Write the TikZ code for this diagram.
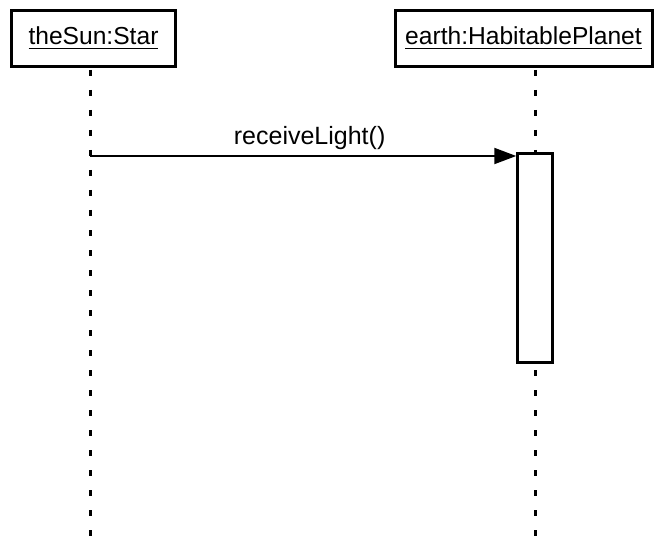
\documentclass[tikz,border=0pt]{standalone}
\usepackage{fontspec}
\setmainfont{Liberation Sans}
\usetikzlibrary{arrows.meta}
\newcommand\myul[1]{\setbox0\hbox{#1}\rlap{\rule[-4.5pt]{\wd0}{1.6pt}}\box0}
\begin{document}
\begin{tikzpicture}[x=1pt,y=-1pt,
  objbox/.style={draw,line width=3pt,fill=white,inner sep=0pt,text height=17.5pt,text depth=5.5pt,font=\fontsize{24.6}{28}\selectfont},
  lifeline/.style={line width=3pt,dash pattern=on 6pt off 14pt},
  actbox/.style={draw,line width=2.5pt,fill=white},
  msg/.style={line width=2pt,-{Triangle[length=22pt,width=16pt]}}]
\useasboundingbox (0,0) rectangle (655,537);
\node[objbox,minimum width=164pt,minimum height=56pt] (sun) at (93.5,39) {\myul{theSun:Star}};
\node[objbox,minimum width=257pt,minimum height=56pt] (earth) at (523.5,39) {\myul{earth:HabitablePlanet}};
\coordinate (sunend) at (90,537);
\coordinate (earthend) at (535,537);
\draw[lifeline] (90,70) -- (sunend);
\draw[lifeline] (535,70) -- (earthend);
\node[actbox,minimum width=35pt,minimum height=209pt,inner sep=0pt] (act) at (535,258) {};
\coordinate (src) at (90,156);
\draw[msg] (src) -- (act.north west |- src) node[midway,anchor=base,yshift=11pt,xshift=6.5pt,font=\fontsize{25}{28}\selectfont] {receiveLight()};
\end{tikzpicture}
\end{document}
